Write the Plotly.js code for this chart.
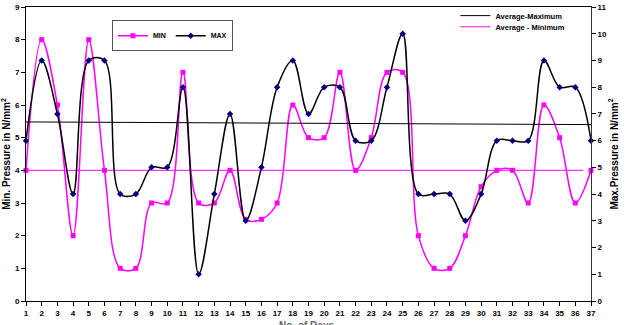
<!DOCTYPE html>
<html>
<head>
<meta charset="utf-8">
<script src="https://cdn.plot.ly/plotly-3.0.1.min.js"></script>
<style>html,body{margin:0;padding:0;background:#fff;}#chart{width:625px;height:325px;}</style>
</head>
<body>
<div id="chart"></div>
<script>
var days = [1,2,3,4,5,6,7,8,9,10,11,12,13,14,15,16,17,18,19,20,21,22,23,24,25,26,27,28,29,30,31,32,33,34,35,36,37];
var minPressure = [4,8,6,2,8,4,1,1,3,3,7,3,3,4,2.5,2.5,3,6,5,5,7,4,5,7,7,2,1,1,2,3.5,4,4,3,6,5,3,4];
var maxPressure = [6,9,7,4,9,9,4,4,5,5,8,1,4,7,3,5,8,9,7,8,8,6,6,8,10,4,4,4,3,4,6,6,6,9,8,8,6];
var avgMaxX = [1,37];
var avgMaxY = [6.7,6.6];
var avgMinX = [1,36.5];
var avgMinY = [4,4];
var xTicks = days;

var F = 'Liberation Sans, Arial, sans-serif';
var traces = [
  {x: days, y: minPressure, name: 'MIN', type: 'scatter', mode: 'lines+markers',
   line: {color: '#FF00FF', width: 1.5, shape: 'spline', smoothing: 1},
   marker: {symbol: 'square', size: 5, color: '#FF00FF'}, cliponaxis: false, legend: 'legend'},
  {x: days, y: maxPressure, name: 'MAX', type: 'scatter', mode: 'lines+markers', yaxis: 'y2',
   line: {color: '#000000', width: 1.5, shape: 'spline', smoothing: 1},
   marker: {symbol: 'diamond', size: 5, color: '#000080'}, cliponaxis: false, legend: 'legend'},
  {x: avgMaxX, y: avgMaxY, name: 'Average-Maximum', type: 'scatter', mode: 'lines', yaxis: 'y2',
   line: {color: '#000000', width: 1}, legend: 'legend2'},
  {x: avgMinX, y: avgMinY, name: 'Average - Minimum', type: 'scatter', mode: 'lines',
   line: {color: '#FF00FF', width: 1}, legend: 'legend3'}
];

var legFont = {size: 7.5, family: F, weight: 'bold', color: '#000'};
var layout = {
  width: 625, height: 325,
  margin: {l: 26, r: 34, t: 7, b: 24, autoexpand: false},
  paper_bgcolor: '#fff', plot_bgcolor: '#fff',
  font: {family: F, size: 8, color: '#000', weight: 'bold'},
  xaxis: {range: [1, 37], tickvals: xTicks, ticktext: xTicks.map(String),
          showgrid: false, zeroline: false, showline: true, linecolor: '#000', linewidth: 1, mirror: true,
          ticks: 'outside', ticklen: 4, tickcolor: '#000', tickfont: {size: 8, family: F, weight: 'bold'}},
  yaxis: {range: [0, 9], dtick: 1, showgrid: false, zeroline: false, showline: true, linecolor: '#000', linewidth: 1,
          ticks: 'outside', ticklen: 4, tickcolor: '#000', tickfont: {size: 8, family: F, weight: 'bold'},
          title: {text: 'Min. Pressure in N/mm<sup>2</sup>', font: {size: 10, family: F, weight: 'bold'}, standoff: 2}},
  yaxis2: {range: [0, 11], dtick: 1, overlaying: 'y', side: 'right', showgrid: false, zeroline: false,
           showline: true, linecolor: '#333', linewidth: 1, ticks: 'outside', ticklen: 4, tickcolor: '#000',
           tickfont: {size: 8, family: F, weight: 'bold'},
           title: {text: 'Max.Pressure in N/mm<sup>2</sup>', font: {size: 10, family: F, weight: 'bold'}, standoff: 4}},
  legend: {x: 0.152, y: 0.955, xanchor: 'left', yanchor: 'top', orientation: 'h',
           bordercolor: '#555', borderwidth: 1, bgcolor: '#fff',
           font: {size: 7, family: F, weight: 'bold'}, itemwidth: 30, tracegroupgap: 0},
  legend2: {x: 0.76, y: 1.02, xanchor: 'left', yanchor: 'top', orientation: 'v',
            borderwidth: 0, bgcolor: 'rgba(0,0,0,0)', font: legFont, itemwidth: 30},
  legend3: {x: 0.76, y: 0.982, xanchor: 'left', yanchor: 'top', orientation: 'v',
            borderwidth: 0, bgcolor: 'rgba(0,0,0,0)', font: legFont, itemwidth: 30},
  annotations: [{text: 'No. of Days', xref: 'paper', yref: 'paper', x: 0.497, y: 0,
                 xanchor: 'center', yanchor: 'top', yshift: -17, showarrow: false,
                 font: {size: 10, family: F, weight: 'bold', color: '#666'}}],
  showlegend: true
};
Plotly.newPlot('chart', traces, layout, {displayModeBar: false, staticPlot: true});
</script>
</body>
</html>
